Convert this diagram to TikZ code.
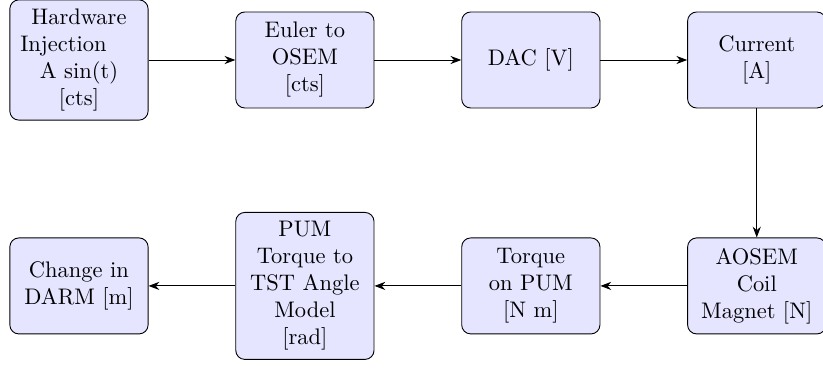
\documentclass[tikz,border=0pt]{standalone}
\usepackage{tikz}
\usetikzlibrary{arrows.meta,positioning}

\begin{document}
\begin{tikzpicture}[
    block/.style={rectangle, rounded corners, draw, fill=blue!10, align=center,
                  inner sep=4pt, minimum width=2.16cm, minimum height=1.5cm},
    >=Stealth
  ]
  \useasboundingbox (-1.234,0.9375) rectangle (11.625,-4.797);
  % top row
  \node[block] (hw)      at (0,0)     {Hardware\\ Injection\hspace*{13.8pt}\mbox{}\\ A sin(t)\\ {[cts]}};
  \node[block] (euler)   at (3.53,0)  {Euler to\\ OSEM\\ {[cts]}};
  \node[block] (dac)     at (7.06,0)  {DAC [V]};
  \node[block] (current) at (10.59,0) {Current\\ {[A]}};
  % bottom row
  \node[block] (coil)    at (10.59,-3.53) {AOSEM\\ Coil\\ Magnet [N]};
  \node[block] (torque)  at (7.06,-3.53)  {Torque\\ on PUM\\ {[N m]}};
  \node[block] (pum)     at (3.53,-3.53)  {PUM\\ Torque to\\ TST Angle\\ Model\\ {[rad]}};
  \node[block] (darm)    at (0,-3.53)     {Change in\\ DARM [m]};
  \draw[->] (hw) -- (euler);
  \draw[->] (euler) -- (dac);
  \draw[->] (dac) -- (current);
  \draw[->] (current) -- (coil);
  \draw[->] (coil) -- (torque);
  \draw[->] (torque) -- (pum);
  \draw[->] (pum) -- (darm);
\end{tikzpicture}
\end{document}
